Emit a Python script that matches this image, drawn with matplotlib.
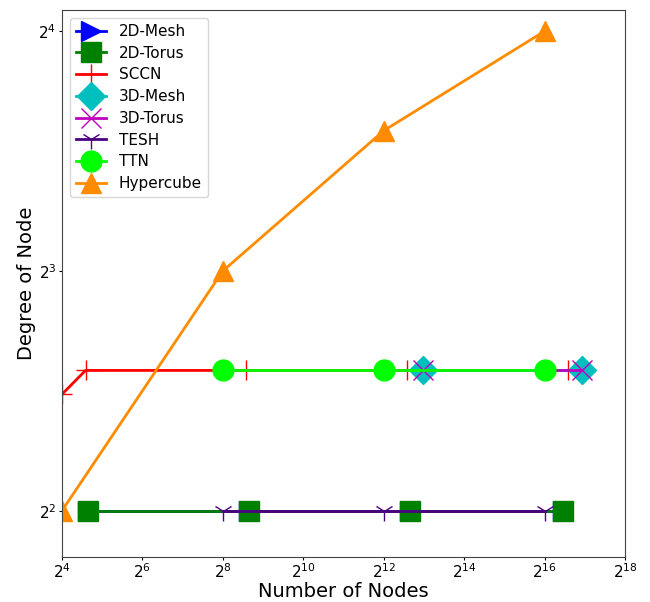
import matplotlib
matplotlib.use("Agg")
import matplotlib.pyplot as plt

# node counts and node degree for each topology
mesh2d_nodes = [25, 400, 6400, 90000]
mesh2d_degree = [4, 4, 4, 4]

torus2d_nodes = [25, 400, 6400, 90000]
torus2d_degree = [4, 4, 4, 4]

sccn_nodes = [16, 24, 384, 6144, 98304]
sccn_degree = [5.6, 6, 6, 6, 6]

mesh3d_nodes = [8000, 125000]
mesh3d_degree = [6, 6]

torus3d_nodes = [8000, 125000]
torus3d_degree = [6, 6]

tesh_nodes = [256, 4096, 65536]
tesh_degree = [4, 4, 4]

ttn_nodes = [256, 4096, 65536]
ttn_degree = [6, 6, 6]

hyper_nodes = [16, 256, 4096, 65536]
hyper_degree = [4, 8, 12, 16]

fig, ax = plt.subplots(figsize=(6.5, 6.02), dpi=100)
fig.subplots_adjust(left=0.0954, right=0.9615, top=0.983, bottom=0.075)

lw = 2
ax.plot(mesh2d_nodes, mesh2d_degree, color='b', marker='>', ms=15, lw=lw, label='2D-Mesh')
ax.plot(torus2d_nodes, torus2d_degree, color='g', marker='s', ms=15, lw=lw, label='2D-Torus')
ax.plot(sccn_nodes, sccn_degree, color='r', marker='+', ms=15, lw=lw, label='SCCN')
ax.plot(mesh3d_nodes, mesh3d_degree, color='c', marker='D', ms=14, lw=lw, label='3D-Mesh')
ax.plot(torus3d_nodes, torus3d_degree, color='m', marker='x', ms=15, lw=lw, label='3D-Torus')
ax.plot(tesh_nodes, tesh_degree, color='indigo', marker='1', ms=15, lw=lw, label='TESH')
ax.plot(ttn_nodes, ttn_degree, color='lime', marker='o', ms=15, lw=lw, label='TTN')
ax.plot(hyper_nodes, hyper_degree, color='darkorange', marker='^', ms=15, lw=lw, label='Hypercube')

ax.set_xscale('log', base=2)
ax.set_yscale('log', base=2)
ax.set_xlim(2**4, 2**18)
ax.set_ylim(3.5, 17)
ax.tick_params(which='major', length=2.5, pad=1.5, labelsize=11)
for s in ax.spines.values():
    s.set_color('#444444')

ax.set_xlabel("Number of Nodes", fontsize=14, labelpad=1)
ax.set_ylabel("Degree of Node", fontsize=14, labelpad=2)
ax.legend(loc='upper left', fontsize=11, labelspacing=0.44)

plt.savefig("out.png", dpi=100)
